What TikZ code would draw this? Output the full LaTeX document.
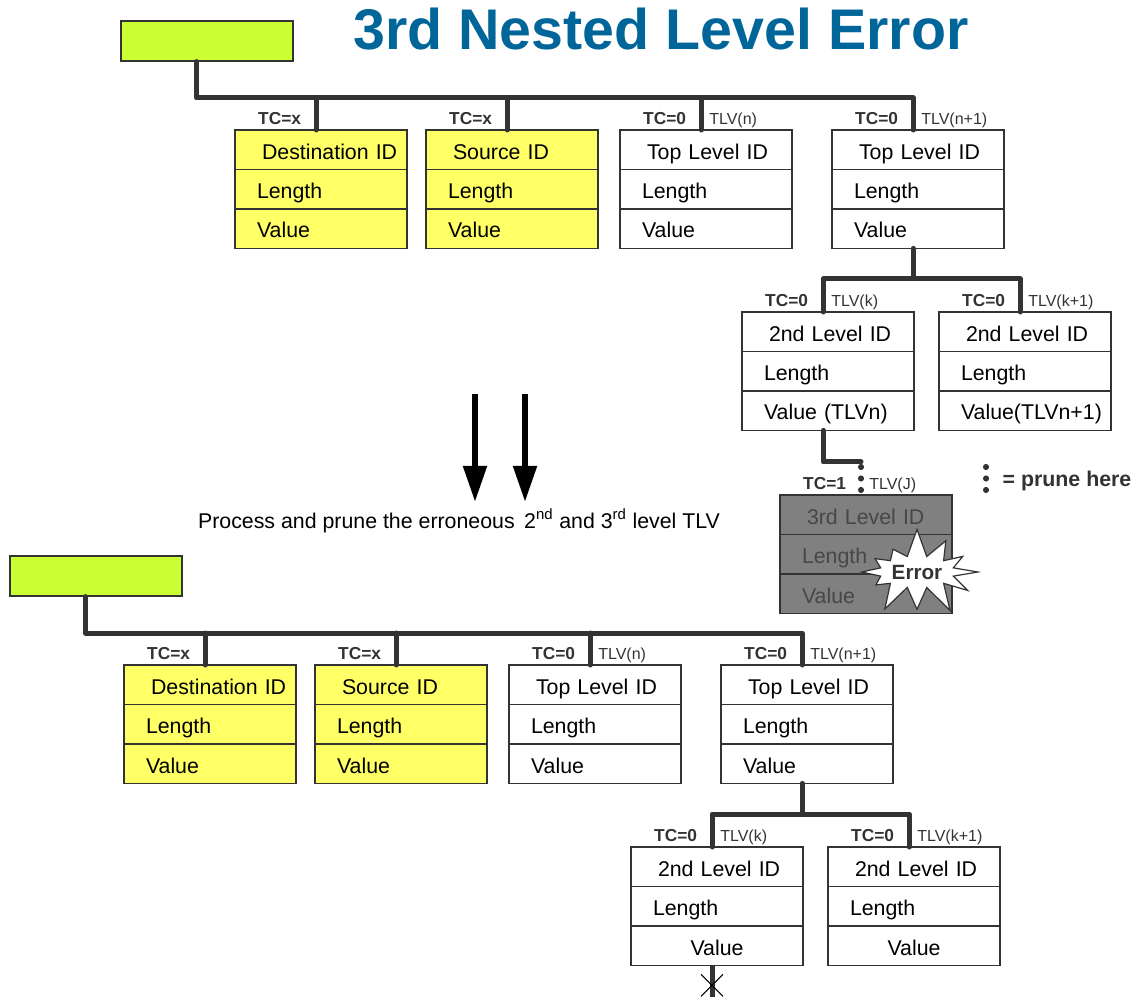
\documentclass[tikz,border=0pt]{standalone}
\usepackage{fontspec}
\setmainfont{Liberation Sans}
\usetikzlibrary{positioning,arrows.meta,shapes.symbols}

\definecolor{hdrgreen}{HTML}{CCFF33}
\definecolor{tlvyellow}{HTML}{FFFF66}
\definecolor{errgray}{HTML}{808080}
\definecolor{titleblue}{HTML}{006699}
\definecolor{linec}{HTML}{333333}

\tikzset{
  cellbase/.style={rectangle, draw=linec, line width=0.9pt, outer sep=0pt,
    inner xsep=0pt, inner ysep=0pt, text width=129pt, minimum height=29.6pt,
    text height=14pt, text depth=0pt, font=\fontsize{16}{19}\selectfont},
  cell/.style={cellbase, align=left, execute at begin node={\hspace*{16.5pt}}},
  cellc/.style={cellbase, align=center},
  yel/.style={fill=tlvyellow},
  wht/.style={fill=white},
  gry/.style={fill=errgray, text=black!72},
  tc/.style={font=\bfseries\fontsize{13}{15}\selectfont, text=linec, inner sep=0pt},
  tlv/.style={font=\fontsize{12}{14}\selectfont, text=linec, inner sep=0pt},
  bus/.style={draw=linec, line width=3.75pt, line cap=round, line join=round},
  hdrbox/.style={rectangle, draw=linec, line width=0.9pt, fill=hdrgreen,
    minimum width=129pt, minimum height=30pt},
  bigarrow/.style={line width=4.5pt, -{Triangle[width=17pt,length=27pt]}},
  cut/.style={draw=black, line width=0.8pt},
  burst/.style={starburst, draw=linec, line width=0.9pt, fill=white,
    starburst points=12, starburst point height=22pt, random starburst=7,
    minimum width=96pt, minimum height=68pt, inner sep=1pt,
    font=\bfseries\fontsize{15.5}{17}\selectfont, text=linec}
}

% one TLV: three stacked cells, branch point and TC / TLV labels
\newcommand{\tlvbox}[9][cell]{%
  \node[cell, #4, anchor=north west] (#2-1) at (#3) {\hspace*{3.75pt}#7};
  \node[cell, #4, below=0pt of #2-1] (#2-2) {#8};
  \node[#1, #4, below=0pt of #2-2] (#2-3) {#9};
  \coordinate (#2-br) at ([xshift=-3.75pt]#2-1.north);
  \node[tc, anchor=base east] (#2-tc) at ([xshift=-11pt,yshift=4pt]#2-br) {#5};
  \node[tlv, anchor=base west] (#2-tlv) at ([xshift=6pt,yshift=4pt]#2-br) {#6};
}
% three dots = prune here
\newcommand{\prunedots}[1]{%
  \foreach \d in {5,16.5,28} \fill[linec] (#1) ++(0,-\d) circle (2.3pt);
}

\begin{document}
\begin{tikzpicture}[x=0.75pt, y=-0.75pt]
\useasboundingbox (0,0) rectangle (1139,998);

\node[font=\bfseries\fontsize{43}{48}\selectfont, text=titleblue, anchor=base]
  (ttl) at (661,50) {3rd Nested Level Error};

% before
\node[hdrbox] (hdr) at (207,41) {};
\tlvbox{dst}{235,130}{yel}{TC=x}{}{Destination ID}{Length}{Value}
\tlvbox{src}{426,130}{yel}{TC=x}{}{Source ID}{Length}{Value}
\tlvbox{tlvn}{620,130}{wht}{TC=0}{TLV(n)}{Top Level ID}{Length}{Value}
\tlvbox{tlvm}{832,130}{wht}{TC=0}{TLV(n+1)}{Top Level ID}{Length}{Value}
\tlvbox{lvk}{742,312}{wht}{TC=0}{TLV(k)}{2nd Level ID}{Length}{Value (TLVn)}
\tlvbox{lvkk}{939,312}{wht}{TC=0}{TLV(k+1)}{2nd Level ID}{Length}{Value(TLVn+1)}
\tlvbox{lvj}{780,495}{gry}{TC=1}{TLV(J)}{3rd Level ID}{Length}{Value}
\node[burst] (err) at (917,572) {Error};

\draw[bus] ([xshift=-8pt]hdr.south) |- ([yshift=24pt]tlvm-br) -- (tlvm-br);
\foreach \b in {dst,src,tlvn} \draw[bus] (\b-br) -- ++(0pt,24pt);
\draw[bus] (tlvm-3.south -| tlvm-br) -- ++(0pt,-22.5pt);
\draw[bus] (lvk-br) -- ++(0pt,24.75pt) -| (lvkk-br);
\draw[bus] (lvk-3.south -| lvk-br) |- ([yshift=24.75pt]lvj-br);
\prunedots{lvj-br}

% legend
\coordinate (leg) at (986,495);
\prunedots{leg}
\node[font=\bfseries\fontsize{16}{19}\selectfont, text=linec, anchor=base west]
  (legtxt) at (998,487) {= prune here};

% processing step
\coordinate (a1s) at (475,394);
\coordinate (a1e) at (475,502);
\coordinate (a2s) at (525,394);
\coordinate (a2e) at (525,502);
\draw[bigarrow] (a1s) -- (a1e);
\draw[bigarrow] (a2s) -- (a2e);
\node[font=\fontsize{16}{19}\selectfont, anchor=base] (proc) at (459,528)
  {Process and prune the erroneous \,2\textsuperscript{nd} and 3\textsuperscript{rd} level TLV};

% after
\begin{scope}[shift={(-111,535)}]
\node[hdrbox] (bhdr) at (207,41) {};
\tlvbox{bdst}{235,130}{yel}{TC=x}{}{Destination ID}{Length}{Value}
\tlvbox{bsrc}{426,130}{yel}{TC=x}{}{Source ID}{Length}{Value}
\tlvbox{btlvn}{620,130}{wht}{TC=0}{TLV(n)}{Top Level ID}{Length}{Value}
\tlvbox{btlvm}{832,130}{wht}{TC=0}{TLV(n+1)}{Top Level ID}{Length}{Value}
\tlvbox[cellc]{blvk}{742,312}{wht}{TC=0}{TLV(k)}{2nd Level ID}{Length}{Value}
\tlvbox[cellc]{blvkk}{939,312}{wht}{TC=0}{TLV(k+1)}{2nd Level ID}{Length}{Value}
\end{scope}

\draw[bus] ([xshift=-8pt]bhdr.south) |- ([yshift=24pt]btlvm-br) -- (btlvm-br);
\foreach \b in {bdst,bsrc,btlvn} \draw[bus] (\b-br) -- ++(0pt,24pt);
\draw[bus] (btlvm-3.south -| btlvm-br) -- ++(0pt,-22.5pt);
\draw[bus] (blvk-br) -- ++(0pt,24.75pt) -| (blvkk-br);
\coordinate (bend) at (blvk-3.south -| blvk-br);
\coordinate (bx) at ([yshift=-15pt]bend);
\draw[bus, line cap=butt] (bend) -- ++(0pt,-24pt);
\draw[cut] ([shift={(-11,-11)}]bx) -- ([shift={(11,11)}]bx);
\draw[cut] ([shift={(-11,11)}]bx) -- ([shift={(11,-11)}]bx);
\end{tikzpicture}
\end{document}
